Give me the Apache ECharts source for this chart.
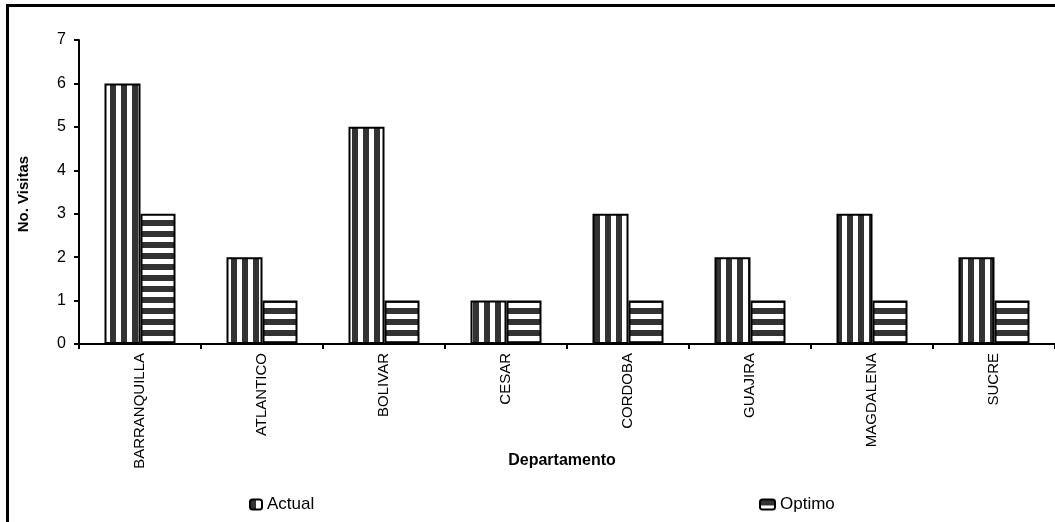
<!DOCTYPE html>
<html>
<head>
<meta charset="utf-8">
<script src="https://cdn.jsdelivr.net/npm/echarts@6/dist/echarts.min.js"></script>
<style>
  html, body { margin: 0; padding: 0; background: #fff; }
  #chart { width: 1055px; height: 522px; }
</style>
</head>
<body>
<div id="chart"></div>
<script>
// Visits per department: current vs optimal
const categories = ['BARRANQUILLA', 'ATLANTICO', 'BOLIVAR', 'CESAR', 'CORDOBA', 'GUAJIRA', 'MAGDALENA', 'SUCRE'];
const actualValues = [6, 2, 5, 1, 3, 2, 3, 2];
const optimoValues = [3, 1, 1, 1, 1, 1, 1, 1];
const seriesNames = ['Actual', 'Optimo'];
const yAxisTitle = 'No. Visitas';
const xAxisTitle = 'Departamento';

const FONT = "'Liberation Sans', Arial, sans-serif";

// Striped fill: dark bands on white, either vertical or horizontal
function stripes(vertical) {
  const period = 11, band = 6;
  const c = document.createElement('canvas');
  c.width = period; c.height = period;
  const ctx = c.getContext('2d');
  ctx.fillStyle = '#ffffff';
  ctx.fillRect(0, 0, period, period);
  ctx.fillStyle = '#333333';
  if (vertical) ctx.fillRect(0, 0, band, period);
  else ctx.fillRect(0, 0, period, band);
  return { image: c, repeat: 'repeat' };
}

const chart = echarts.init(document.getElementById('chart'), null, { renderer: 'canvas' });

const option = {
  animation: false,
  backgroundColor: '#ffffff',
  grid: { left: 79, top: 40, width: 983, height: 304, containLabel: false },
  graphic: [
    { type: 'rect', shape: { x: 7.5, y: 5.5, width: 1200, height: 700 },
      style: { fill: 'none', stroke: '#000', lineWidth: 3 }, silent: true, z: 0 },
    { type: 'text', x: 24, y: 194, rotation: Math.PI / 2,
      style: { text: yAxisTitle, font: "bold 15px " + FONT, fill: '#000', align: 'center', verticalAlign: 'middle' } },
    { type: 'text', x: 562, y: 461,
      style: { text: xAxisTitle, font: "bold 16px " + FONT, fill: '#000', align: 'center', verticalAlign: 'middle' } }
  ],
  legend: [
    { data: [seriesNames[0]], left: 249, top: 496, padding: 0, itemWidth: 12, itemHeight: 10,
      textStyle: { fontFamily: FONT, fontSize: 17, color: '#000' },
      itemStyle: { borderColor: '#000', borderWidth: 2 } },
    { data: [seriesNames[1]], left: 759, top: 496, padding: 0, itemWidth: 15, itemHeight: 10,
      textStyle: { fontFamily: FONT, fontSize: 17, color: '#000' },
      itemStyle: { borderColor: '#000', borderWidth: 2 } }
  ],
  xAxis: {
    type: 'category',
    data: categories,
    axisLine: { lineStyle: { color: '#000', width: 2 } },
    axisTick: { show: true, length: 5, lineStyle: { color: '#000', width: 2 } },
    axisLabel: { rotate: 90, margin: 9, interval: 0, fontFamily: FONT, fontSize: 15, color: '#000' },
    splitLine: { show: false }
  },
  yAxis: {
    type: 'value',
    min: 0, max: 7, interval: 1,
    axisLine: { show: true, lineStyle: { color: '#000', width: 2 } },
    axisTick: { show: true, length: 5, lineStyle: { color: '#000', width: 2 } },
    axisLabel: { margin: 13, fontFamily: FONT, fontSize: 16, color: '#000' },
    splitLine: { show: false }
  },
  series: [
    { name: seriesNames[0], type: 'bar', data: actualValues, barWidth: 36, barGap: '0%',
      itemStyle: { color: stripes(true), borderColor: '#000', borderWidth: 2 } },
    { name: seriesNames[1], type: 'bar', data: optimoValues, barWidth: 35,
      itemStyle: { color: stripes(false), borderColor: '#000', borderWidth: 2 } }
  ]
};

chart.setOption(option);
</script>
</body>
</html>
